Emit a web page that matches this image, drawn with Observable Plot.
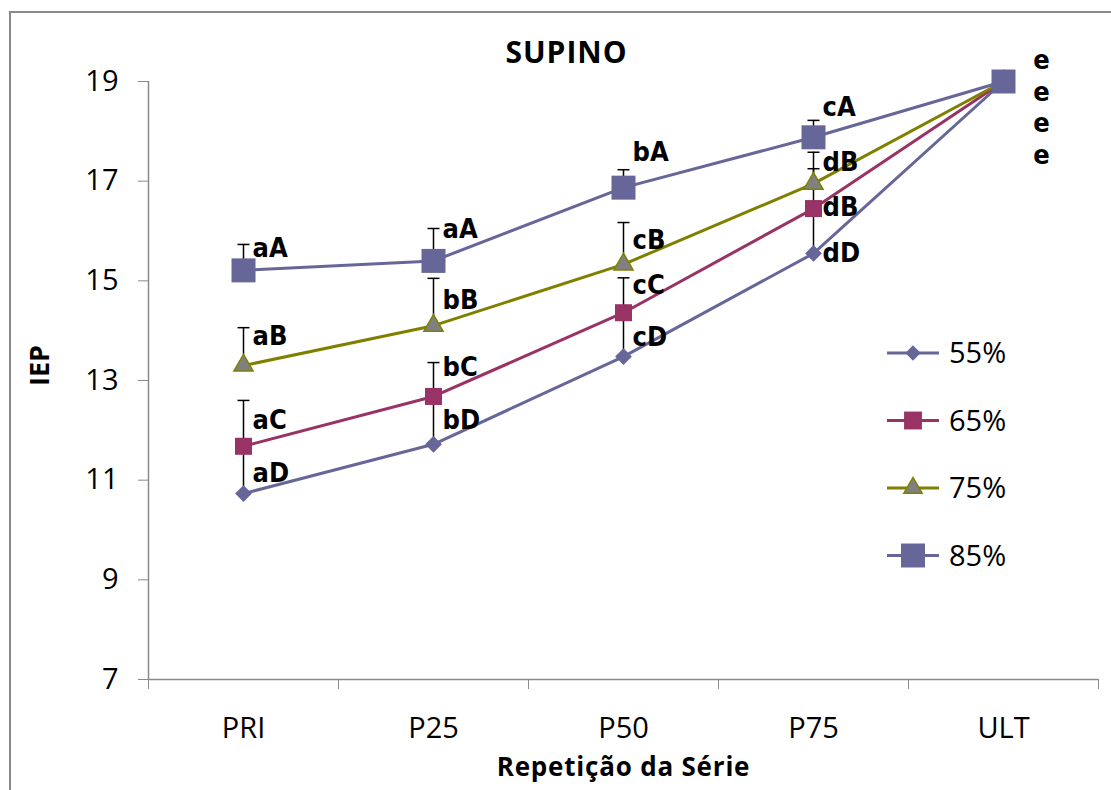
<!DOCTYPE html>
<html><head><meta charset="utf-8">
<script src="https://cdn.jsdelivr.net/npm/d3@7"></script>
<script src="https://cdn.jsdelivr.net/npm/@observablehq/plot@0.6"></script>
<style>
body{margin:0;background:#fff;overflow:hidden;}
#wrap{position:relative;width:1111px;height:790px;overflow:hidden;background:#fff;}
#frame{position:absolute;left:9px;top:11px;width:1200px;height:900px;border:2px solid #8a8a8a;}
#chart{position:absolute;left:0;top:0;}
#legend{position:absolute;left:880px;top:320px;}
</style></head><body>
<div id="wrap"><div id="frame"></div><div id="chart"></div><div id="legend"></div></div>
<script>
// ---- data ----
const categories = ["PRI", "P25", "P50", "P75", "ULT"];
const seriesNames = ["55%", "65%", "75%", "85%"];
const yTicks = [7, 9, 11, 13, 15, 17, 19];

const mean55 = [10.73, 11.72, 13.48, 15.55, 19];
const mean65 = [11.68, 12.68, 14.36, 16.45, 19];
const mean75 = [13.30, 14.10, 15.33, 16.95, 19];
const mean85 = [15.21, 15.40, 16.87, 17.88, 19];

const err55 = [0.90, 0.90, 0.75, 0.85, 0];
const err65 = [0.92, 0.68, 0.70, 0.80, 0];
const err75 = [0.76, 0.95, 0.84, 0.63, 0];
const err85 = [0.52, 0.65, 0.36, 0.34, 0];

const letters55 = ["aD", "bD", "cD", "dD", "e"];
const letters65 = ["aC", "bC", "cC", "dB", "e"];
const letters75 = ["aB", "bB", "cB", "dB", "e"];
const letters85 = ["aA", "aA", "bA", "cA", "e"];

// value at which each letter label sits
const labelAt55 = [11.13, 12.20, 13.86, 15.55, 17.51];
const labelAt65 = [12.20, 13.26, 14.91, 16.47, 18.16];
const labelAt75 = [13.88, 14.61, 15.81, 17.37, 18.78];
const labelAt85 = [15.65, 16.03, 17.58, 18.48, 19.42];

const title = "SUPINO";
const xTitle = "Repetição da Série";
const yTitle = "IEP";

// ---- build table ----
const means = [mean55, mean65, mean75, mean85];
const errs = [err55, err65, err75, err85];
const letters = [letters55, letters65, letters75, letters85];
const labelAts = [labelAt55, labelAt65, labelAt75, labelAt85];
const rows = [];
seriesNames.forEach((s, k) => categories.forEach((c, i) => rows.push({
  series: s, i, cat: c, value: means[k][i], err: errs[k][i], label: letters[k][i], labelY: labelAts[k][i]
})));

// ---- styles ----
const styles = {
  "55%": {line: "#666699", fill: "#666699", stroke: "none", symbol: d3.symbolDiamond2, size: 180, legendSize: 150},
  "65%": {line: "#993366", fill: "#993366", stroke: "none", symbol: d3.symbolSquare, size: 290, legendSize: 320},
  "75%": {line: "#808000", fill: "#808080", stroke: "#808000", symbol: d3.symbolTriangle, size: 160, legendSize: 145},
  "85%": {line: "#666699", fill: "#666699", stroke: "none", symbol: d3.symbolSquare, size: 576, legendSize: 576}
};
const cap = {draw(ctx) { ctx.moveTo(-6, 0); ctx.lineTo(6, 0); }};
const sans = "'Open Sans', 'DejaVu Sans', sans-serif";
const narrow = "'Liberation Sans Narrow', 'DejaVu Sans Condensed', 'Liberation Sans', sans-serif";
const axisGray = "#8a8a8a";

const marks = [
  Plot.ruleY([7], {stroke: axisGray, strokeWidth: 1.5}),
  Plot.ruleX([-0.5], {stroke: axisGray, strokeWidth: 1.5}),
  Plot.axisY(yTicks, {tickSize: 10, tickPadding: 20, tickFormat: d => String(d), fontSize: 29, fontFamily: sans, stroke: axisGray, fill: "#000", label: null}),
  Plot.axisX(d3.range(categories.length + 1).map(k => k - 0.5), {tickSize: 10, tickFormat: () => "", stroke: axisGray, label: null}),
  Plot.axisX(d3.range(categories.length), {tickSize: 0, tickPadding: 38, tickFormat: i => categories[i], fontSize: 29, fontFamily: sans, fill: "#000", label: null})
];

seriesNames.forEach(s => {
  const st = styles[s];
  const data = rows.filter(d => d.series === s);
  const withErr = data.filter(d => d.err > 0);
  marks.push(
    Plot.ruleX(withErr, {x: "i", y1: "value", y2: d => d.value + d.err, stroke: "#000", strokeWidth: 1.5}),
    Plot.dot(withErr, {x: "i", y: d => d.value + d.err, symbol: () => cap, r: 1, stroke: "#000", fill: "none", strokeWidth: 1.5}),
    Plot.line(data, {x: "i", y: "value", stroke: st.line, strokeWidth: 3}),
    Plot.dot(data, {x: "i", y: "value", symbol: () => st.symbol, r: Math.sqrt(st.size / Math.PI), fill: st.fill, stroke: st.stroke, strokeWidth: 1.5})
  );
});

marks.push(
  Plot.text(rows.filter(d => d.i < 4), {x: "i", y: "labelY", text: "label", dx: 9, textAnchor: "start",
    fontFamily: narrow, fontWeight: "bold", fontSize: 27, fill: "#000"}),
  Plot.text(rows.filter(d => d.i === 4), {x: "i", y: "labelY", text: "label", dx: 38, textAnchor: "middle",
    fontFamily: narrow, fontWeight: "bold", fontSize: 27, fill: "#000"}),
  Plot.text([title], {text: d => d, frameAnchor: "top", lineAnchor: "middle", dx: -57, dy: -28, fontFamily: sans, fontWeight: "bold", fontSize: 30, fill: "#000"}),
  Plot.text([xTitle], {text: d => d, frameAnchor: "bottom", lineAnchor: "middle", dy: 88, fontFamily: sans, fontWeight: "bold", fontSize: 26, fill: "#000"}),
  Plot.text([yTitle], {text: d => d, frameAnchor: "left", lineAnchor: "middle", textAnchor: "middle", dx: -108, dy: -15, rotate: -90, fontFamily: sans, fontWeight: "bold", fontSize: 27, fill: "#000"})
);

const chart = Plot.plot({
  width: 1111, height: 790,
  marginLeft: 148, marginRight: 13, marginTop: 81, marginBottom: 111,
  x: {type: "linear", domain: [-0.5, categories.length - 0.5]},
  y: {domain: [7, 19]},
  style: {background: "transparent", color: "#000", fontFamily: sans, overflow: "visible"},
  marks
});
document.getElementById("chart").appendChild(chart);
d3.select(chart).selectAll("text").filter(function() { return this.textContent === title; }).style("letter-spacing", "1px");
d3.select(chart).selectAll("text").filter(function() { return this.textContent === xTitle; }).style("letter-spacing", "0.8px");

// ---- legend ----
const lg = d3.select("#legend").append("svg").attr("width", 200).attr("height", 270);
seriesNames.forEach((s, k) => {
  const st = styles[s];
  const y = 33 + k * 67.5;
  const g = lg.append("g").attr("transform", `translate(0,${y})`);
  g.append("line").attr("x1", 7).attr("x2", 59).attr("stroke", st.line).attr("stroke-width", 3);
  g.append("path").attr("transform", "translate(33,0)").attr("d", d3.symbol(st.symbol, st.legendSize)())
    .attr("fill", st.fill).attr("stroke", st.stroke).attr("stroke-width", 1.5);
  g.append("text").attr("x", 69).attr("dy", "0.36em").attr("font-family", sans).attr("font-size", 29).attr("fill", "#000").text(s);
});
</script>
</body></html>
